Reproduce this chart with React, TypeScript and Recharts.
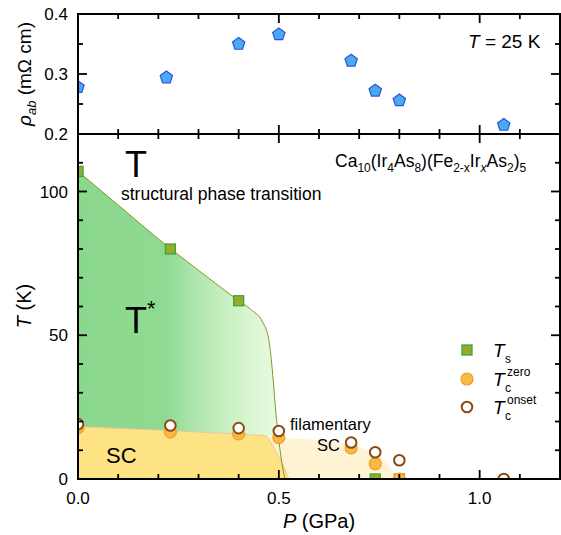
import { Area, ComposedChart, Line, Scatter, XAxis, YAxis } from "recharts";

const FONT = "'Liberation Sans', Arial, Helvetica, sans-serif";
const W = 561;
const H = 535;
// plot box edges shared by both panels (from the chart margins below)
const LEFT = 78;
const RIGHT = 560;
const TOP = 14;
const MID = 134;
const BOTTOM = 479;

// top panel: in-plane resistivity at 25 K
const P_RHO = [0, 0.22, 0.4, 0.5, 0.68, 0.74, 0.8, 1.06];
const RHO = [0.278, 0.294, 0.35, 0.366, 0.322, 0.272, 0.256, 0.215];

// bottom panel: transition temperatures
const P_TS = [0, 0.23, 0.4, 0.74, 0.8];
const TS = [107, 80, 62, 0, 0];
const P_TC = [0, 0.23, 0.4, 0.5, 0.68, 0.74, 0.8];
const TC_ZERO = [17.9, 16.4, 15.7, 14.4, 10.8, 5.3, 0];
const P_ONSET = [0, 0.23, 0.4, 0.5, 0.68, 0.74, 0.8, 1.06];
const TC_ONSET = [19.1, 18.6, 17.7, 16.7, 12.7, 9.3, 6.5, 0];

// phase boundaries (guides to the eye)
const P_TSLINE = [0, 0.1, 0.2, 0.3, 0.4, 0.43, 0.46, 0.475, 0.485, 0.492, 0.498, 0.505, 0.515];
const T_TSLINE = [107, 95.3, 83.5, 72.6, 62, 59, 54.5, 48.5, 36, 24, 16, 8, 0];
const P_TSTAR = [0, 0.1, 0.2, 0.3, 0.4, 0.43, 0.46, 0.475, 0.485, 0.492, 0.498];
const TSTAR_HI = [107, 95.3, 83.5, 72.6, 62, 59, 54.5, 48.5, 36, 24, 15];
const TSTAR_LO = [18.2, 17.6, 17.0, 16.3, 15.6, 15.4, 15.1, 15.0, 14.9, 14.9, 15];
const P_SC = [0, 0.1, 0.2, 0.3, 0.4, 0.47, 0.49, 0.51, 0.525];
const T_SC = [18.2, 17.6, 17.0, 16.3, 15.6, 15.0, 10.5, 5, 0];
const P_FIL = [0.47, 0.55, 0.62, 0.68, 0.72, 0.75, 0.775, 0.793];
const T_FIL = [15, 14.0, 13.2, 12.0, 10.2, 8.2, 4.5, 0];

const X_RANGE = [0, 1.2];
const X_TICKS = [0, 0.1, 0.2, 0.3, 0.4, 0.5, 0.6, 0.7, 0.8, 0.9, 1.0, 1.1, 1.2];
const X_LABELS = [0, 0.5, 1.0];
const T_RANGE = [0, 120];
const T_TICKS = [0, 10, 20, 30, 40, 50, 60, 70, 80, 90, 100, 110, 120];
const T_LABELS = [0, 50, 100];
const RHO_RANGE = [0.2, 0.4];
const RHO_TICKS = [0.2, 0.25, 0.3, 0.35, 0.4];
const RHO_LABELS = [0.2, 0.3, 0.4];

const zip = (xs: number[], ys: number[]) => xs.map((x, i) => ({ x, y: ys[i] }));
const rhoData = zip(P_RHO, RHO);
const tsData = zip(P_TS, TS);
const zeroData = zip(P_TC, TC_ZERO);
const onsetData = zip(P_ONSET, TC_ONSET);
const tsLine = zip(P_TSLINE, T_TSLINE);
const scData = zip(P_SC, T_SC);
const filData = zip(P_FIL, T_FIL);
const tstarData = P_TSTAR.map((x, i) => ({ x, r: [TSTAR_LO[i], TSTAR_HI[i]] }));

const near = (v: number, list: number[]) => list.some((m) => Math.abs(m - v) < 1e-6);

// frame outline and tick-mark positions, derived from the axis ranges/ticks
const frame = (yr: number[]) => [
  { x: X_RANGE[0], y: yr[0] }, { x: X_RANGE[1], y: yr[0] }, { x: X_RANGE[1], y: yr[1] },
  { x: X_RANGE[0], y: yr[1] }, { x: X_RANGE[0], y: yr[0] },
];
const xMarks = (y: number) => X_TICKS.map((x) => ({ x, y, len: near(x, X_LABELS) ? 9 : 5 }));
const yMarks = (x: number, ticks: number[], majors: number[]) =>
  ticks.map((y) => ({ x, y, len: near(y, majors) ? 9 : 5 }));

const INK = "#000";
const lenOf = (p: any) => (p.payload && p.payload.len) || p.len || 5;
// tick marks as thin filled bars
const Up = (p: any) => <rect x={p.cx - 0.9} y={p.cy - lenOf(p)} width={1.8} height={lenOf(p)} fill={INK} />;
const Down = (p: any) => <rect x={p.cx - 0.9} y={p.cy} width={1.8} height={lenOf(p)} fill={INK} />;
const Rightward = (p: any) => <rect x={p.cx} y={p.cy - 0.9} width={lenOf(p)} height={1.8} fill={INK} />;
const Leftward = (p: any) => <rect x={p.cx - lenOf(p)} y={p.cy - 0.9} width={lenOf(p)} height={1.8} fill={INK} />;

function XLabel(props: any) {
  const { x, y, payload } = props;
  return (
    <text x={x} y={y + 13} dy="0.71em" textAnchor="middle" fontSize={17} fontFamily={FONT} fill="#000">
      {payload.value.toFixed(1)}
    </text>
  );
}

function YLabel(props: any) {
  const { x, y, payload, fmt } = props;
  return (
    <text x={x - 10} y={y} dy="0.355em" textAnchor="end" fontSize={17} fontFamily={FONT} fill="#000">
      {fmt(payload.value)}
    </text>
  );
}

function Pentagon(props: any) {
  const { cx, cy } = props;
  const r = 6.5;
  const pts = [0, 1, 2, 3, 4]
    .map((i) => {
      const a = -Math.PI / 2 + (i * 2 * Math.PI) / 5;
      return `${cx + r * Math.cos(a)},${cy + r * Math.sin(a)}`;
    })
    .join(" ");
  return <polygon points={pts} fill="#4aa9f2" stroke="#2a55d8" strokeWidth={1.2} />;
}

const Square = (p: any) => (
  <rect x={p.cx - 5} y={p.cy - 5} width={10} height={10} fill="#98aa2a" stroke="#3aa63c" strokeWidth={1.3} />
);
const Dot = (p: any) => <circle cx={p.cx} cy={p.cy} r={6} fill="#f6bb44" stroke="#f29b2a" strokeWidth={1.2} />;
const Ring = (p: any) => <circle cx={p.cx} cy={p.cy} r={5.3} fill="#fff" stroke="#8b4a12" strokeWidth={2} />;

// plain box outline (same place as the frame series)
function Box({ top, bottom }: { top: number; bottom: number }) {
  const t = 2;
  return (
    <g fill={INK}>
      <rect x={LEFT - 1} y={top - 1} width={RIGHT - LEFT + 2} height={t} />
      <rect x={LEFT - 1} y={bottom - 1} width={RIGHT - LEFT + 2} height={t} />
      <rect x={LEFT - 1} y={top - 1} width={t} height={bottom - top + 2} />
      <rect x={RIGHT - 1} y={top - 1} width={t} height={bottom - top + 2} />
    </g>
  );
}

export default function App() {
  return (
    <div style={{ position: "absolute", left: 0, top: 0, width: W, height: H, background: "#fff", fontFamily: FONT }}>
      <div style={{ position: "absolute", left: 0, top: 0 }}>
        <ComposedChart width={W} height={150} margin={{ top: TOP, right: W - RIGHT, bottom: 150 - MID - 1, left: 0 }}>
          <Scatter xAxisId="b" yAxisId="l" data={rhoData} shape={Pentagon} isAnimationActive={false} />
          <Line xAxisId="b" yAxisId="l" data={frame(RHO_RANGE)} dataKey="y" type="linear" stroke={INK} strokeWidth={2}
            dot={false} isAnimationActive={false} />
          <Scatter xAxisId="b" yAxisId="l" data={xMarks(RHO_RANGE[0])} shape={Up} isAnimationActive={false} />
          <Scatter xAxisId="b" yAxisId="l" data={xMarks(RHO_RANGE[1])} shape={Down} isAnimationActive={false} />
          <Scatter xAxisId="b" yAxisId="l" data={yMarks(X_RANGE[0], RHO_TICKS, RHO_LABELS)} shape={Rightward} isAnimationActive={false} />
          <Scatter xAxisId="b" yAxisId="l" data={yMarks(X_RANGE[1], RHO_TICKS, RHO_LABELS)} shape={Leftward} isAnimationActive={false} />
          <XAxis xAxisId="b" type="number" dataKey="x" domain={X_RANGE} allowDataOverflow height={1} tick={false}
            axisLine={false} tickLine={false} />
          <YAxis yAxisId="l" type="number" dataKey="y" domain={RHO_RANGE} ticks={RHO_LABELS} allowDataOverflow width={LEFT}
            tickSize={0} tickMargin={0} interval={0} axisLine={false} tickLine={false}
            tick={(p: any) => <YLabel {...p} fmt={(v: number) => v.toFixed(1)} />} />
        </ComposedChart>
      </div>

      <div style={{ position: "absolute", left: 0, top: 0 }}>
        <ComposedChart width={W} height={H} margin={{ top: MID, right: W - RIGHT, bottom: H - BOTTOM - 40, left: 0 }}>
          <defs>
            <linearGradient id="tstarFill" x1="0" y1="0" x2="1" y2="0">
              <stop offset="0" stopColor="#8ad88d" />
              <stop offset="0.44" stopColor="#8fda91" />
              <stop offset="0.62" stopColor="#b6e8b3" />
              <stop offset="0.85" stopColor="#d8f5cf" />
              <stop offset="1" stopColor="#e9fbe1" />
            </linearGradient>
          </defs>
          <Area xAxisId="b" yAxisId="l" data={filData} dataKey="y" type="monotone" fill="#fef3d3" fillOpacity={1}
            stroke="none" isAnimationActive={false} />
          <Area xAxisId="b" yAxisId="l" data={tstarData} dataKey="r" type="monotone" fill="url(#tstarFill)" fillOpacity={1}
            stroke="none" isAnimationActive={false} />
          <Area xAxisId="b" yAxisId="l" data={scData} dataKey="y" type="linear" fill="#fee385" fillOpacity={1}
            stroke="#f2c49a" strokeWidth={1} isAnimationActive={false} />
          <Line xAxisId="b" yAxisId="l" data={tsLine} dataKey="y" type="monotone" stroke="#7f9a24" strokeWidth={1}
            dot={false} isAnimationActive={false} />
          <Scatter xAxisId="b" yAxisId="l" data={tsData} shape={Square} isAnimationActive={false} />
          <Scatter xAxisId="b" yAxisId="l" data={zeroData} shape={Dot} isAnimationActive={false} />
          <Scatter xAxisId="b" yAxisId="l" data={onsetData} shape={Ring} isAnimationActive={false} />
          <Line xAxisId="b" yAxisId="l" data={frame(T_RANGE)} dataKey="y" type="linear" stroke={INK} strokeWidth={2}
            dot={false} isAnimationActive={false} />
          <Scatter xAxisId="b" yAxisId="l" data={xMarks(T_RANGE[0])} shape={Up} isAnimationActive={false} />
          <Scatter xAxisId="b" yAxisId="l" data={xMarks(T_RANGE[1])} shape={Down} isAnimationActive={false} />
          <Scatter xAxisId="b" yAxisId="l" data={yMarks(X_RANGE[0], T_TICKS, T_LABELS)} shape={Rightward} isAnimationActive={false} />
          <Scatter xAxisId="b" yAxisId="l" data={yMarks(X_RANGE[1], T_TICKS, T_LABELS)} shape={Leftward} isAnimationActive={false} />
          <XAxis xAxisId="b" type="number" dataKey="x" domain={X_RANGE} ticks={X_LABELS} allowDataOverflow height={40}
            tickSize={0} tickMargin={0} axisLine={false} tickLine={false} interval={0}
            tick={(p: any) => <XLabel {...p} />} />
          <YAxis yAxisId="l" type="number" dataKey="y" domain={T_RANGE} ticks={T_LABELS} allowDataOverflow width={LEFT}
            tickSize={0} tickMargin={0} interval={0} axisLine={false} tickLine={false}
            tick={(p: any) => <YLabel {...p} fmt={(v: number) => String(v)} />} />
        </ComposedChart>
      </div>

      <svg width={W} height={H} style={{ position: "absolute", left: 0, top: 0, pointerEvents: "none" }} fontFamily={FONT}>
        <Box top={TOP} bottom={MID} />
        <Box top={MID} bottom={BOTTOM} />

        {/* axis titles */}
        <text transform="translate(31,74) rotate(-90)" textAnchor="middle" fontSize={19}>
          <tspan fontStyle="italic">ρ</tspan>
          <tspan fontSize={13} fontStyle="italic" dy={5}>ab</tspan>
          <tspan dy={-5}> (mΩ cm)</tspan>
        </text>
        <text transform="translate(31,306) rotate(-90)" textAnchor="middle" fontSize={20}>
          <tspan fontStyle="italic">T</tspan> (K)
        </text>
        <text x={319} y={528} textAnchor="middle" fontSize={20}>
          <tspan fontStyle="italic">P</tspan> (GPa)
        </text>

        {/* top panel note */}
        <text x={468} y={48} fontSize={19}>
          <tspan fontStyle="italic">T</tspan> = 25 K
        </text>

        {/* phase labels */}
        <text x={125} y={177} fontSize={36}>T</text>
        <text x={121} y={200} fontSize={17.5}>structural phase transition</text>
        <text x={125} y={333} fontSize={36}>
          T<tspan fontSize={22} dy={-17}>*</tspan>
        </text>
        <text x={106} y={463} fontSize={22}>SC</text>
        <text x={290} y={430} fontSize={16.5}>filamentary</text>
        <text x={317} y={451} fontSize={16.5}>SC</text>

        {/* compound */}
        <text x={335} y={167} fontSize={17.5}>
          Ca<tspan fontSize={12} dy={4.5}>10</tspan>
          <tspan dy={-4.5}>(Ir</tspan><tspan fontSize={12} dy={4.5}>4</tspan>
          <tspan dy={-4.5}>As</tspan><tspan fontSize={12} dy={4.5}>8</tspan>
          <tspan dy={-4.5}>)(Fe</tspan><tspan fontSize={12} dy={4.5}>2-x</tspan>
          <tspan dy={-4.5}>Ir</tspan><tspan fontSize={12} dy={4.5} fontStyle="italic">x</tspan>
          <tspan dy={-4.5}>As</tspan><tspan fontSize={12} dy={4.5}>2</tspan>
          <tspan dy={-4.5}>)</tspan><tspan fontSize={12} dy={4.5}>5</tspan>
        </text>

        {/* legend */}
        <Square cx={467} cy={350} />
        <text x={493} y={357} fontSize={19} fontStyle="italic">T</text>
        <text x={505} y={363} fontSize={12}>s</text>
        <Dot cx={467} cy={379} />
        <text x={493} y={386} fontSize={19} fontStyle="italic">T</text>
        <text x={505} y={392} fontSize={12}>c</text>
        <text x={507} y={376} fontSize={12}>zero</text>
        <Ring cx={467} cy={407} />
        <text x={493} y={414} fontSize={19} fontStyle="italic">T</text>
        <text x={505} y={420} fontSize={12}>c</text>
        <text x={507} y={404} fontSize={12}>onset</text>
      </svg>
    </div>
  );
}
